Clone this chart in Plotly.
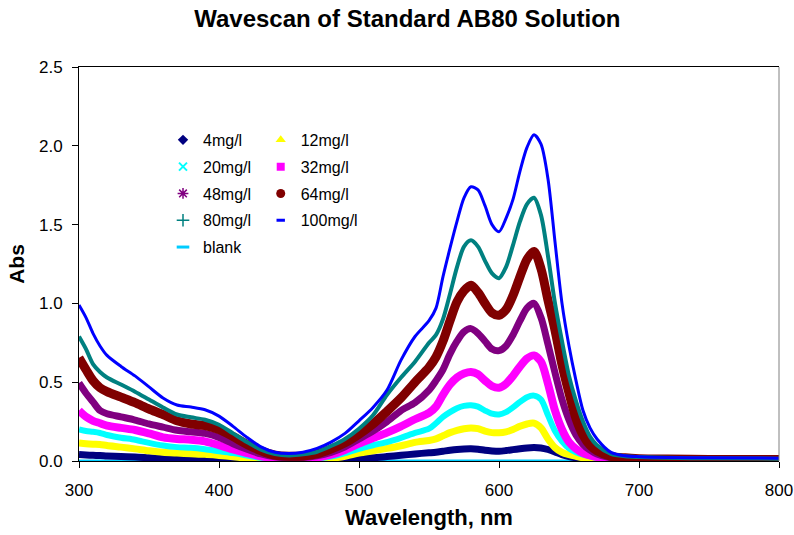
import plotly.graph_objects as go

# ---------------- data ----------------
wavelength = [300, 305, 310, 315, 320, 330, 340, 350, 360, 370, 380, 390, 400, 410, 420, 430,
              440, 450, 460, 470, 480, 490, 500, 510, 520, 530, 540, 550, 555, 560, 565, 570,
              575, 580, 585, 590, 595, 600, 605, 610, 615, 620, 625, 630, 635, 640, 645, 650,
              655, 660, 665, 670, 680, 690, 700, 720, 750, 800]

abs_4 = [0.041, 0.038, 0.036, 0.035, 0.032, 0.028, 0.026, 0.020, 0.015, 0.012, 0.010, 0.008, 0.006, 0.005, 0.003, 0.002,
         0.001, 0.000, 0.001, 0.003, 0.006, 0.010, 0.014, 0.020, 0.028, 0.036, 0.045, 0.052, 0.056, 0.062, 0.068, 0.073,
         0.076, 0.077, 0.075, 0.068, 0.064, 0.062, 0.066, 0.072, 0.078, 0.083, 0.086, 0.083, 0.073, 0.058, 0.040, 0.028,
         0.020, 0.015, 0.012, 0.010, 0.007, 0.005, 0.005, 0.005, 0.005, 0.005]

abs_12 = [0.115, 0.110, 0.107, 0.105, 0.098, 0.088, 0.077, 0.065, 0.055, 0.050, 0.046, 0.042, 0.035, 0.027, 0.018, 0.010,
          0.006, 0.004, 0.005, 0.008, 0.016, 0.030, 0.050, 0.065, 0.080, 0.097, 0.118, 0.130, 0.140, 0.160, 0.180, 0.195,
          0.205, 0.210, 0.205, 0.190, 0.180, 0.179, 0.185, 0.200, 0.220, 0.235, 0.240, 0.210, 0.140, 0.085, 0.055, 0.040,
          0.030, 0.020, 0.015, 0.012, 0.008, 0.006, 0.006, 0.006, 0.006, 0.006]

abs_20 = [0.200, 0.190, 0.185, 0.178, 0.165, 0.148, 0.135, 0.115, 0.098, 0.088, 0.084, 0.075, 0.062, 0.050, 0.035, 0.020,
          0.012, 0.008, 0.010, 0.015, 0.028, 0.050, 0.077, 0.100, 0.120, 0.147, 0.178, 0.205, 0.240, 0.280, 0.310, 0.335,
          0.350, 0.354, 0.345, 0.320, 0.300, 0.295, 0.310, 0.340, 0.375, 0.405, 0.415, 0.390, 0.290, 0.190, 0.125, 0.080,
          0.055, 0.040, 0.030, 0.020, 0.012, 0.010, 0.008, 0.008, 0.008, 0.008]

abs_32 = [0.320, 0.280, 0.255, 0.240, 0.225, 0.210, 0.197, 0.175, 0.150, 0.140, 0.135, 0.125, 0.100, 0.073, 0.050, 0.030,
          0.018, 0.013, 0.015, 0.022, 0.040, 0.070, 0.110, 0.145, 0.180, 0.220, 0.265, 0.305, 0.345, 0.420, 0.485, 0.530,
          0.555, 0.565, 0.550, 0.510, 0.475, 0.465, 0.490, 0.540, 0.600, 0.650, 0.670, 0.630, 0.490, 0.320, 0.200, 0.120,
          0.077, 0.050, 0.035, 0.025, 0.015, 0.012, 0.010, 0.010, 0.010, 0.010]

abs_48 = [0.495, 0.430, 0.375, 0.320, 0.300, 0.280, 0.260, 0.235, 0.215, 0.195, 0.185, 0.175, 0.150, 0.110, 0.075, 0.045,
          0.027, 0.020, 0.022, 0.033, 0.055, 0.090, 0.140, 0.190, 0.250, 0.320, 0.370, 0.450, 0.510, 0.580, 0.680, 0.760,
          0.820, 0.840, 0.810, 0.760, 0.710, 0.700, 0.730, 0.800, 0.890, 0.970, 1.000, 0.910, 0.740, 0.560, 0.390, 0.260,
          0.165, 0.105, 0.070, 0.045, 0.020, 0.015, 0.012, 0.010, 0.010, 0.010]

abs_64 = [0.655, 0.580, 0.510, 0.465, 0.440, 0.405, 0.370, 0.330, 0.295, 0.255, 0.235, 0.225, 0.200, 0.155, 0.105, 0.065,
          0.037, 0.030, 0.032, 0.045, 0.075, 0.115, 0.170, 0.235, 0.315, 0.400, 0.500, 0.595, 0.660, 0.760, 0.890, 1.010,
          1.080, 1.115, 1.070, 1.000, 0.940, 0.925, 0.960, 1.050, 1.170, 1.280, 1.330, 1.220, 1.020, 0.830, 0.610, 0.430,
          0.270, 0.165, 0.100, 0.065, 0.030, 0.020, 0.015, 0.012, 0.010, 0.010]

abs_80 = [0.790, 0.710, 0.615, 0.565, 0.530, 0.485, 0.440, 0.390, 0.340, 0.295, 0.277, 0.262, 0.230, 0.175, 0.120, 0.072,
          0.044, 0.035, 0.042, 0.058, 0.095, 0.140, 0.205, 0.290, 0.420, 0.530, 0.630, 0.750, 0.800, 0.900, 1.060, 1.230,
          1.360, 1.400, 1.360, 1.270, 1.190, 1.160, 1.230, 1.370, 1.520, 1.630, 1.670, 1.560, 1.300, 1.000, 0.760, 0.540,
          0.380, 0.250, 0.155, 0.100, 0.045, 0.030, 0.025, 0.020, 0.017, 0.015]

abs_100 = [0.990, 0.910, 0.810, 0.730, 0.670, 0.600, 0.540, 0.470, 0.400, 0.355, 0.342, 0.325, 0.285, 0.220, 0.150, 0.090,
           0.055, 0.047, 0.056, 0.080, 0.120, 0.175, 0.255, 0.340, 0.450, 0.640, 0.790, 0.890, 0.970, 1.170, 1.350, 1.520,
           1.670, 1.740, 1.720, 1.620, 1.500, 1.455, 1.540, 1.660, 1.840, 1.990, 2.070, 2.010, 1.790, 1.390, 1.000, 0.730,
           0.510, 0.320, 0.210, 0.140, 0.055, 0.033, 0.027, 0.022, 0.020, 0.018]

blank_wavelength = [300, 400, 500, 600, 700, 800]
abs_blank = [0.0, 0.0, 0.0, 0.0, 0.0, 0.0]

series_names = ["4mg/l", "12mg/l", "20mg/l", "32mg/l", "48mg/l", "64mg/l", "80mg/l", "100mg/l", "blank"]
x_ticks = [300, 400, 500, 600, 700, 800]
y_ticks = [0.0, 0.5, 1.0, 1.5, 2.0, 2.5]

# ---------------- styles ----------------
FONT = "Arial, Liberation Sans, sans-serif"
styles = {
    "4mg/l":   dict(color="#000080", width=7, symbol="diamond", msize=8, lw=0, legend="legend"),
    "12mg/l":  dict(color="#FFFF00", width=7, symbol="triangle-up", msize=9, lw=0, legend="legend2"),
    "20mg/l":  dict(color="#00FFFF", width=6, symbol="x-thin-open", msize=8, lw=2, legend="legend"),
    "32mg/l":  dict(color="#FF00FF", width=8, symbol="square", msize=8, lw=0, legend="legend2"),
    "48mg/l":  dict(color="#800080", width=7, symbol="asterisk-open", msize=9, lw=1.5, legend="legend"),
    "64mg/l":  dict(color="#800000", width=9, symbol="circle", msize=9, lw=0, legend="legend2"),
    "80mg/l":  dict(color="#008080", width=4, symbol="cross-thin-open", msize=9, lw=1.5, legend="legend"),
    "100mg/l": dict(color="#0000FF", width=3, symbol="line-ew-open", msize=6, lw=3, legend="legend2"),
    "blank":   dict(color="#00CCFF", width=3, symbol="line-ew-open", msize=9, lw=3, legend="legend"),
}

fig = go.Figure()

# blank drawn first (beneath)
fig.add_trace(go.Scatter(x=blank_wavelength, y=abs_blank, mode="lines",
                         line=dict(color=styles["blank"]["color"], width=styles["blank"]["width"]),
                         showlegend=False, hoverinfo="skip", cliponaxis=False))

data_map = {"4mg/l": abs_4, "12mg/l": abs_12, "20mg/l": abs_20, "32mg/l": abs_32,
            "48mg/l": abs_48, "64mg/l": abs_64, "80mg/l": abs_80, "100mg/l": abs_100}
for name in ["4mg/l", "12mg/l", "20mg/l", "32mg/l", "48mg/l", "64mg/l", "80mg/l", "100mg/l"]:
    st = styles[name]
    fig.add_trace(go.Scatter(x=wavelength, y=data_map[name], mode="lines",
                             line=dict(color=st["color"], width=st["width"], shape="spline", smoothing=0.8),
                             showlegend=False, name=name))

# legend entries (marker symbols as in the original)
for name in series_names:
    st = styles[name]
    fig.add_trace(go.Scatter(x=[None], y=[None], mode="markers", name=name,
                             legend=st["legend"], legendgroup=name,
                             marker=dict(symbol=st["symbol"], size=st["msize"], color=st["color"],
                                         line=dict(color=st["color"], width=st["lw"]))))

legend_common = dict(font=dict(family=FONT, size=16, color="black"), bgcolor="rgba(0,0,0,0)",
                     traceorder="grouped", tracegroupgap=3, itemsizing="trace",
                     xanchor="left", yanchor="top")

fig.update_layout(
    width=794, height=535,
    margin=dict(l=79, r=15, t=67, b=74, autoexpand=False),
    paper_bgcolor="white", plot_bgcolor="white",
    font=dict(family=FONT, color="black"),
    title=dict(text="<b>Wavescan of Standard AB80 Solution</b>", x=0.513, xanchor="center",
               y=0.965, yanchor="middle", font=dict(size=24, family=FONT, color="black")),
    legend=dict(x=0.12, y=0.858, **legend_common),
    legend2=dict(x=0.2596, y=0.858, **legend_common),
    xaxis=dict(range=[300, 800], tickvals=x_ticks, ticktext=[str(v) for v in x_ticks],
               automargin=False,
               showgrid=False, zeroline=False, showline=True, linecolor="black", linewidth=1,
               mirror=True, ticks="outside", ticklen=6, tickcolor="black",
               tickfont=dict(size=17, family=FONT, color="black"), ticklabelstandoff=8,
               title=dict(text="<b>Wavelength, nm</b>", font=dict(size=22, family=FONT, color="black"),
                          standoff=10)),
    yaxis=dict(range=[0, 2.5], tickvals=y_ticks, ticktext=["%.1f" % v for v in y_ticks],
               automargin=False,
               showgrid=False, zeroline=False, showline=True, linecolor="black", linewidth=1,
               ticks="outside", ticklen=6, tickcolor="black",
               tickfont=dict(size=17, family=FONT, color="black"), ticklabelstandoff=6,
               title=dict(text="<b>Abs</b>", font=dict(size=21, family=FONT, color="black"),
                          standoff=8)),
)

# right border of the plot area (grey, like the original frame)
fig.add_shape(type="line", xref="paper", yref="paper", x0=1, x1=1, y0=0, y1=1,
              line=dict(color="#808080", width=1))

fig.write_html("out.html")
